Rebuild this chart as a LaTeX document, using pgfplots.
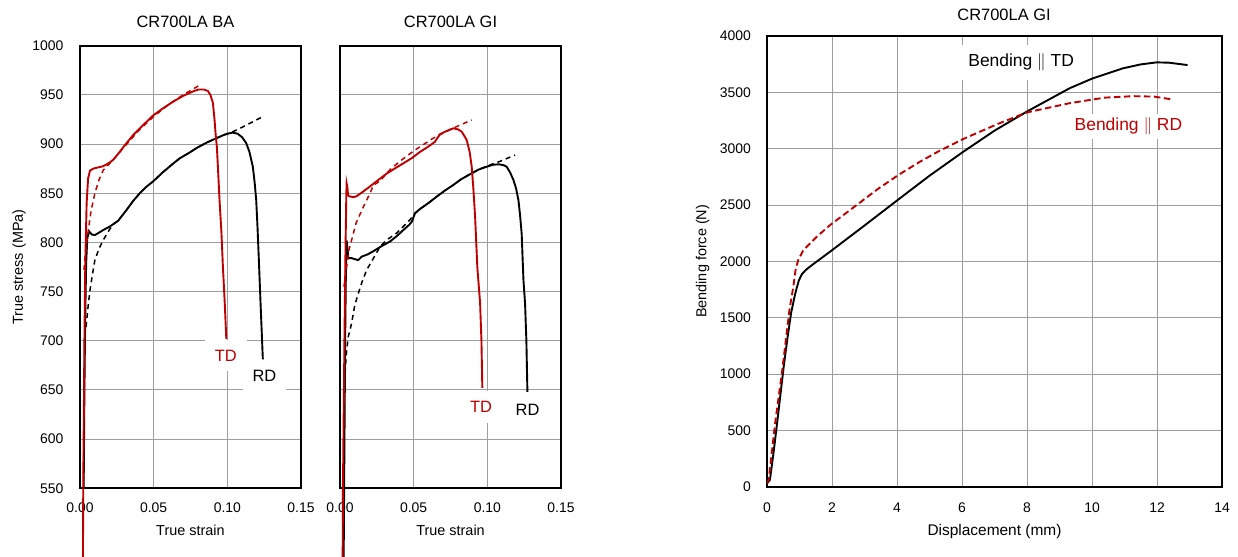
\documentclass[border=0pt]{standalone}
\usepackage{fontspec}
\setmainfont{Liberation Sans}
\usepackage{pgfplots}
\pgfplotsset{compat=1.18}
\definecolor{tdred}{HTML}{C00000}
\newcommand{\tickfont}{\fontsize{14}{16}\selectfont}
\newcommand{\labfont}{\fontsize{14.5}{17}\selectfont}
\newcommand{\titfont}{\fontsize{16.5}{19}\selectfont}
\newcommand{\annfont}{\fontsize{16.5}{19}\selectfont}
\pgfplotsset{
  base/.style={
    scale only axis,
    axis line style={line width=1.7bp},
    grid=major,
    major grid style={draw=black!38, line width=1bp},
    major tick length=0pt,
    tick style={draw=none},
    tick label style={font=\tickfont},
    /pgf/number format/assume math mode=true,
    /pgf/number format/1000 sep={},
    xticklabel style={anchor=base, yshift=-24bp, inner sep=0pt},
    yticklabel style={anchor=east, xshift=-16.5bp, inner sep=0pt},
    label style={font=\labfont},
    title style={font=\titfont, anchor=base},
  },
  solidl/.style={line width=1.9bp, no marks},
  dashl/.style={line width=1.5bp, no marks, dash pattern=on 5bp off 4bp},
  strain/.style={
    base, width=221bp, height=442.6bp,
    xmin=0, xmax=0.15, ymin=550, ymax=1000,
    xtick={0,0.05,0.1,0.15}, ytick={550,600,...,1000},
    xticklabel style={/pgf/number format/.cd, fixed, fixed zerofill, precision=2},
    xlabel={True strain},
    xlabel style={at={(axis description cs:0.5,0)}, anchor=base, yshift=-47.5bp},
    clip=false,
  },
}
\begin{document}
\begin{tikzpicture}
\useasboundingbox (0,0) rectangle (1238bp,557bp);
% ---------------- Panel 1 ----------------
\begin{axis}[strain, at={(80bp,68.7bp)}, anchor=south west,
  title={CR700LA BA}, title style={at={(0.477,1)}, yshift=12.4bp},
  ylabel={True stress (MPa)},
  ylabel style={at={(axis description cs:-0.258,0.5)}, anchor=base},
]
% RD solid
\addplot[solidl, black] coordinates {
(0.0025,550)(0.0030,650)(0.0035,720)(0.0042,780)(0.0050,805)(0.0063,811)(0.0080,808)
(0.0101,807.5)(0.0130,810)(0.0158,812.6)(0.0200,816)(0.0230,819)(0.0259,822)(0.0290,828)
(0.0316,833)(0.0360,842)(0.0406,850)(0.0450,856.5)(0.0496,862)(0.0560,871)(0.0631,880)
(0.0677,885.5)(0.0740,891)(0.0792,896)(0.0860,901.5)
(0.0927,906)(0.0980,909.5)(0.1015,911)(0.1037,911.6)(0.1070,910.5)(0.1100,907)(0.1128,901)
(0.1150,892)(0.1173,877)(0.1186,860)(0.1196,843)(0.1205,815)(0.1214,782)(0.1225,740)(0.1241,681)
};
% RD dashed
\addplot[dashl, black] coordinates {
(0.0041,714)(0.0055,735)(0.0068,751.6)(0.0085,768)(0.0101,782)(0.0130,794)(0.0158,802.5)
(0.0200,813)(0.0230,819)(0.0259,822)(0.0290,828)(0.0316,833)(0.0360,842)(0.0406,850)
(0.0450,856.5)(0.0496,862)(0.0560,871)(0.0631,880)(0.0677,885.5)(0.0740,891)(0.0792,896)
(0.0860,901.5)(0.0927,906)(0.0980,909.5)(0.1037,912.5)(0.1100,917)(0.1229,927)
};
% TD dashed
\addplot[dashl, tdred] coordinates {
(0.0027,772)(0.0040,795)(0.0056,812)(0.0075,832)(0.0101,850)(0.0130,864)(0.0158,873.5)
(0.0200,880)(0.0237,886)(0.0300,897)(0.0400,914)(0.0500,928)(0.0600,940)(0.0700,950)(0.0814,960)
};
% TD solid
\addplot[solidl, tdred] coordinates {
(0.0020,480)(0.0022,550)(0.0030,700)(0.0036,780)(0.0045,840)(0.0055,865)(0.0068,873)
(0.0090,875)(0.0130,876.5)(0.0158,877.5)(0.0200,881)(0.0225,884)(0.0259,890)(0.0300,898)
(0.0360,909)(0.0406,916)(0.0496,929)(0.0560,936)(0.0631,943)(0.0700,949)(0.0767,953.5)
(0.0805,955.5)(0.0840,955.5)(0.0868,954)(0.0885,950)(0.0902,942)(0.0913,925)(0.0920,911)
(0.0929,897)(0.0936,877)(0.0947,843)(0.0960,810)(0.0970,775)(0.0982,740)(0.0993,702)
};
\node[font=\annfont, text=tdred, fill=white, inner xsep=10bp, inner ysep=10bp, anchor=base] at (axis cs:0.099,679.4) {TD};
\node[font=\annfont, text=black, fill=white, inner xsep=10bp, inner ysep=10bp, anchor=base] at (axis cs:0.1252,658.4) {RD};
\end{axis}
% ---------------- Panel 2 ----------------
\begin{axis}[strain, at={(340bp,68.7bp)}, anchor=south west,
  title={CR700LA GI}, title style={at={(0.5,1)}, yshift=12.4bp},
  yticklabels={},
]
% RD solid
\addplot[solidl, black] coordinates {
(0.0025,480)(0.0028,550)(0.0035,700)(0.0040,770)(0.0043,795)(0.0045,802)(0.0050,795)
(0.0057,784)(0.0079,784)(0.0100,783)(0.0124,782)(0.0147,785.5)(0.0190,788)(0.0226,791)
(0.0280,796)(0.0340,801)(0.0390,807)(0.0430,812.6)(0.0470,818)(0.0487,821)(0.0500,826)
(0.0509,829.6)(0.0543,834)(0.0600,840)(0.0656,846.5)(0.0710,852.5)(0.0769,858.4)(0.0820,864)
(0.0882,869.3)(0.0940,874)(0.0996,877)(0.1040,879)(0.1079,879.4)(0.1110,878.5)(0.1131,877)
(0.1155,871)(0.1177,863.5)(0.1195,855)(0.1211,843)(0.1222,828)(0.1233,809)(0.1245,762)
(0.1256,738)(0.1265,700)(0.1272,648)
};
% RD dashed
\addplot[dashl, black] coordinates {
(0.0034,667)(0.0045,690)(0.0056,704)(0.0079,718)(0.0100,736)(0.0124,748)(0.0150,760)
(0.0181,772)(0.0204,778)(0.0272,795.6)(0.0317,802.5)(0.0385,809.5)(0.0475,823)(0.0509,829.6)
(0.0543,834)(0.0600,840)(0.0656,846.5)(0.0710,852.5)(0.0769,858.4)(0.0820,864)(0.0882,869.3)
(0.0940,874)(0.0996,877.5)(0.1040,880)(0.1079,882)(0.1188,888.8)
};
% TD dashed
\addplot[dashl, tdred] coordinates {
(0.0027,755)(0.0045,775)(0.0060,792)(0.0079,802.5)(0.0110,820)(0.0158,836)(0.0204,850)
(0.0226,858)(0.0272,862.5)(0.0340,874)(0.0407,882.5)(0.0500,893)(0.0633,906)(0.0750,915)(0.0894,924.5)
};
% TD solid
\addplot[solidl, tdred] coordinates {
(0.0018,480)(0.0020,550)(0.0030,700)(0.0038,800)(0.0043,850)(0.0045,860)(0.0050,856)
(0.0055,848)(0.0061,847)(0.0090,846)(0.0113,847)(0.0160,852)(0.0204,857)(0.0260,863.5)
(0.0317,870)(0.0370,875)(0.0430,880.4)(0.0490,886)(0.0543,892)(0.0600,897.5)(0.0645,902.4)
(0.0660,906)(0.0679,910)(0.0720,913)(0.0769,916)(0.0800,915)(0.0826,912.6)(0.0845,908)
(0.0860,904)(0.0880,892)(0.0894,877)(0.0905,855)(0.0917,826)(0.0932,775)(0.0951,738)
(0.0960,700)(0.0966,652)
};
\node[font=\annfont, text=tdred, fill=white, inner xsep=10bp, inner ysep=10bp, anchor=base] at (axis cs:0.0957,626.9) {TD};
\node[font=\annfont, text=black, fill=white, inner xsep=10bp, inner ysep=10bp, anchor=base] at (axis cs:0.1273,624.5) {RD};
\end{axis}
% ---------------- Panel 3 ----------------
\begin{axis}[base, at={(767bp,70.3bp)}, anchor=south west,
  width=455bp, height=450.7bp,
  xmin=0, xmax=14, ymin=0, ymax=4000,
  xtick={0,2,...,14}, ytick={0,500,...,4000},
  xticklabel style={yshift=-1.6bp},
  yticklabel style={xshift=0.5bp},
  title={CR700LA GI}, title style={at={(0.521,1)}, yshift=10bp},
  xlabel={Displacement (mm)},
  xlabel style={at={(axis description cs:0.5,0)}, anchor=base, yshift=-48.3bp, font=\fontsize{15.5}{18}\selectfont},
  ylabel={Bending force (N)},
  ylabel style={at={(axis description cs:-0.133,0.5)}, anchor=base},
]
\addplot[line width=1.9bp, no marks, black] coordinates {
(0.00,30)(0.09,60)(0.20,300)(0.31,563)(0.52,1080)(0.64,1340)(0.74,1540)(0.85,1690)
(0.91,1760)(0.98,1830)(1.07,1885)(1.20,1925)(1.32,1953)(2.00,2099)(3.00,2318)(4.00,2540)
(5.00,2760)(6.04,2973)(7.00,3160)(8.00,3330)(9.31,3536)(10.02,3624)(10.95,3713)(11.50,3748)
(11.99,3766)(12.37,3763)(12.94,3742)
};
\addplot[line width=1.9bp, no marks, tdred, dash pattern=on 6.5bp off 3.5bp] coordinates {
(0.00,30)(0.05,60)(0.25,563)(0.47,1036)(0.69,1568)(0.81,1775)(0.88,1926)(0.96,2012)
(1.12,2100)(1.50,2210)(1.94,2322)(2.76,2500)(3.40,2640)(4.04,2766)(4.71,2885)(5.30,2980)
(6.03,3085)(7.12,3222)(8.00,3322)(9.30,3403)(10.39,3453)(11.27,3466)(11.92,3462)(12.44,3438)
};
\node[font=\fontsize{17.5}{20}\selectfont, text=black, fill=white, inner xsep=8bp, inner ysep=9bp, anchor=base] at (axis cs:7.82,3727) {Bending $\|$ TD};
\node[font=\fontsize{17.5}{20}\selectfont, text=tdred, fill=white, inner xsep=4bp, inner ysep=4bp, anchor=base] at (axis cs:11.12,3160) {Bending $\|$ RD};
\end{axis}
\end{tikzpicture}
\end{document}
